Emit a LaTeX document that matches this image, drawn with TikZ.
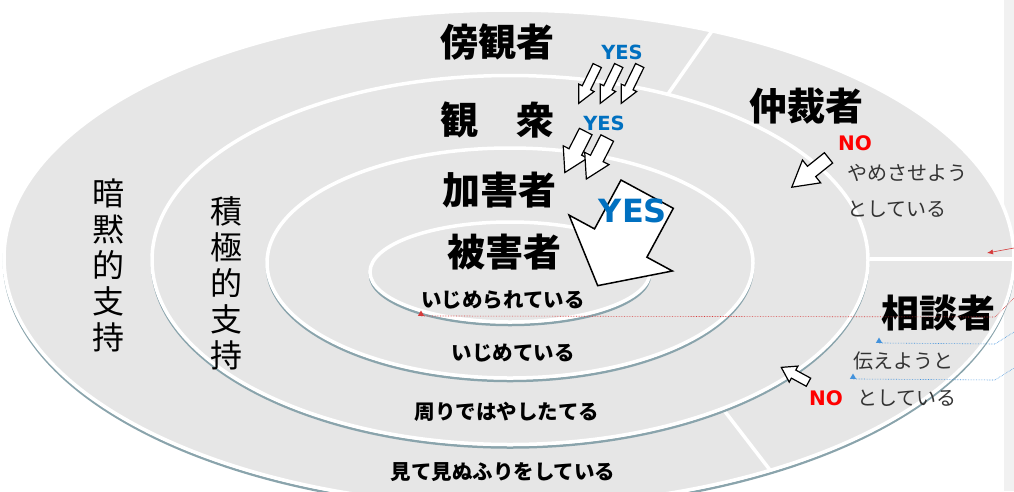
\documentclass[tikz,border=0pt]{standalone}
\usepackage{fontspec}
\usepackage{tikz}
\usetikzlibrary{shapes.arrows,shapes.geometric,arrows.meta}
\newfontfamily\jp{Noto Sans CJK JP}
\newfontfamily\lat{DejaVu Sans}
\definecolor{ringgray}{RGB}{230,230,230}
\definecolor{rimteal}{RGB}{138,164,172}
\definecolor{stripgray}{RGB}{241,241,241}
\definecolor{yesblue}{RGB}{0,112,192}
\definecolor{nored}{RGB}{255,0,0}
\definecolor{notered}{RGB}{214,58,58}
\definecolor{noteblue}{RGB}{66,146,220}
\pgfdeclarelayer{bg}
\pgfsetlayers{bg,main}
\tikzset{
    ring/.style={fill=ringgray, draw=white, line width=3.5pt},
    rim/.style={draw=rimteal, line width=2.5pt},
    divider/.style={draw=white, line width=3.5pt},
    role/.style={font=\jp\bfseries\fontsize{38}{40}\selectfont, inner sep=0pt},
    act/.style={font=\jp\bfseries\fontsize{20.5}{22}\selectfont, inner sep=0pt},
    remark/.style={font=\jp\fontsize{20}{22}\selectfont, text=black!80, inner sep=0pt, anchor=west},
    side/.style={font=\jp\fontsize{32}{36}\selectfont, align=center, inner sep=0pt},
    yeslabel/.style={font=\lat\bfseries\fontsize{19.5}{20}\selectfont, text=yesblue, inner sep=0pt},
    nolabel/.style={font=\lat\bfseries\fontsize{20}{22}\selectfont, text=nored, inner sep=0pt},
    push/.style={single arrow, draw=black, fill=white, line width=1.2pt, inner xsep=0pt,
        single arrow head indent=0pt, anchor=tail},
    cline/.style={line width=0.6pt, densely dotted},
    marker/.style={regular polygon, regular polygon sides=3, minimum size=7pt, inner sep=0pt, draw=none}
}

\begin{document}
\begin{tikzpicture}[x=1pt, y=-1pt]
        \useasboundingbox (0,0) rectangle (1014,491);
        \coordinate (c0) at (509,258);
        \coordinate (c1) at (510,260);
        \coordinate (c2) at (510,263);
        \coordinate (c3) at (510,272);
        \coordinate (d0a) at (668,94);
        \coordinate (d0b) at (712,31);
        \coordinate (d1a) at (866,259);
        \coordinate (d1b) at (1016,259);
        \coordinate (d2a) at (723,409);
        \coordinate (d2b) at (770,470);
        \begin{pgfonlayer}{bg}
                \fill[stripgray] (1004,0) rectangle (1014,491);
                \draw[rim] ([yshift=-3pt]c0) ellipse [x radius=505pt, y radius=248pt];
                \draw[ring] (c0) ellipse [x radius=505pt, y radius=248pt];
                \draw[divider] (d0a) -- (d0b);
                \draw[divider] (d1a) -- (d1b);
                \draw[divider] (d2a) -- (d2b);
                \draw[rim] ([yshift=-3pt]c1) ellipse [x radius=358pt, y radius=184.5pt];
                \draw[ring] (c1) ellipse [x radius=358pt, y radius=184.5pt];
                \draw[rim] ([yshift=-3pt]c2) ellipse [x radius=243pt, y radius=115pt];
                \draw[ring] (c2) ellipse [x radius=243pt, y radius=115pt];
                \draw[rim] ([yshift=-3pt]c3) ellipse [x radius=140pt, y radius=50pt];
                \draw[ring] (c3) ellipse [x radius=140pt, y radius=50pt];
        \end{pgfonlayer}
        \node[role] (bystander) at (497,42) {傍観者};
        \node[role] (audience) at (497,120) {観　衆};
        \node[role] (bully) at (499,190) {加害者};
        \node[role] (victim) at (504,252) {被害者};
        \node[role] (mediator) at (806,106) {仲裁者};
        \node[role] (adviser) at (938,313) {相談者};
        \node[act] (victimdoes) at (503,300) {いじめられている};
        \node[act] (bullydoes) at (513,353) {いじめている};
        \node[act] (audiencedoes) at (507,412) {周りではやしたてる};
        \node[act] (bystanderdoes) at (503,472) {見て見ぬふりをしている};
        \node[side] (tacit) at (108,265) {暗\\黙\\的\\支\\持};
        \node[side] (active) at (226,283) {積\\極\\的\\支\\持};
        \node[remark] (stop1) at (847,173) {やめさせよう};
        \node[remark] (stop2) at (847,209) {としている};
        \node[remark] (tell1) at (853,361) {伝えようと};
        \node[remark] (tell2) at (857,398) {としている};
        \node[push, rotate=244, minimum height=42pt, inner ysep=4pt, single arrow head extend=4pt, single arrow tip angle=53] (a1) at (597.5,65) {};
        \node[push, rotate=244, minimum height=42pt, inner ysep=4pt, single arrow head extend=4pt, single arrow tip angle=53] (a2) at (619,65) {};
        \node[push, rotate=244, minimum height=42pt, inner ysep=4pt, single arrow head extend=4pt, single arrow tip angle=53] (a3) at (640,65) {};
        \node[push, rotate=243, minimum height=46pt, inner ysep=6.5pt, single arrow head extend=6.5pt, single arrow tip angle=61] (b1) at (586,131) {};
        \node[push, rotate=243, minimum height=46pt, inner ysep=6.5pt, single arrow head extend=6.5pt, single arrow tip angle=61] (b2) at (607.5,137.5) {};
        \node[push, rotate=241.6, line width=1.5pt, minimum height=104pt, inner ysep=29pt, single arrow head extend=29pt, single arrow tip angle=101] (big) at (647.5,193.5) {};
        \node[push, rotate=218.6, minimum height=47pt, inner ysep=6pt, single arrow head extend=8pt, single arrow tip angle=60] (stoparrow) at (829,157.5) {};
        \node[push, rotate=151.4, minimum height=31pt, inner ysep=4pt, single arrow head extend=4.5pt, single arrow tip angle=66] (tellarrow) at (809,382.5) {};
        \node[yeslabel] (yes1) at (622,52) {YES};
        \node[yeslabel] (yes2) at (604,123) {YES};
        \node[yeslabel, font=\lat\bfseries\fontsize{32}{34}\selectfont] (yes3) at (633,211) {YES};
        \node[nolabel] (no1) at (855,143) {NO};
        \node[nolabel] (no2) at (826,398) {NO};
        \node[marker, fill=notered] (m1) at (421,314) {};
        \node[marker, fill=noteblue] (m2) at (879,341) {};
        \node[marker, fill=noteblue] (m3) at (853,377) {};
        \coordinate (r1) at (995,317);
        \coordinate (r2) at (1014,298);
        \coordinate (r3) at (1014,248);
        \coordinate (r4) at (987,253);
        \coordinate (b1k) at (995,344);
        \coordinate (b1e) at (1014,332);
        \coordinate (b2k) at (995,380);
        \coordinate (b2e) at (1014,368);
        \draw[cline, notered] (m1.south) -- (r1) -- (r2);
        \draw[line width=0.6pt, notered, -{Latex[length=6pt,width=5pt]}] (r3) -- (r4);
        \draw[cline, noteblue] (m2.south) -- (b1k) -- (b1e);
        \draw[cline, noteblue] (m3.south) -- (b2k) -- (b2e);
\end{tikzpicture}
\end{document}
